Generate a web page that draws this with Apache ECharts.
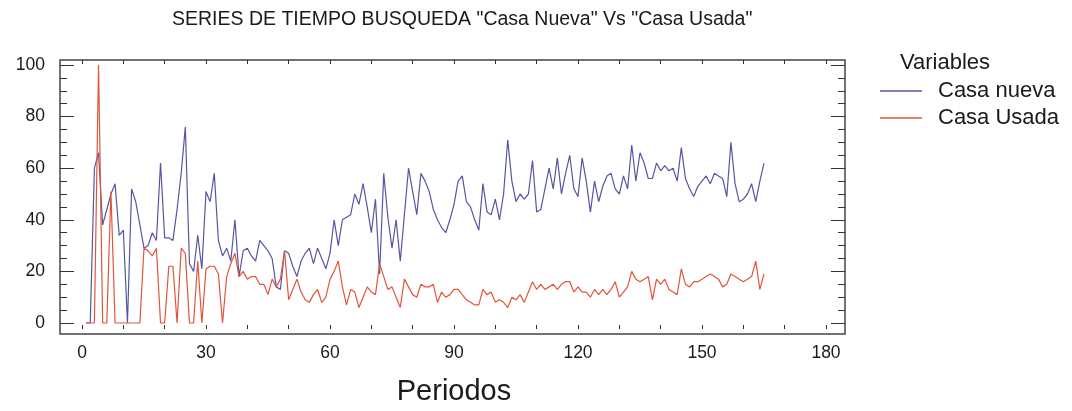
<!DOCTYPE html>
<html>
<head>
<meta charset="utf-8">
<script src="https://cdn.jsdelivr.net/npm/echarts@6/dist/echarts.min.js"></script>
<style>
html,body{margin:0;padding:0;background:#fff;}
#chart{width:1072px;height:411px;}
</style>
</head>
<body>
<div id="chart"></div>
<script>
const titulo = 'SERIES DE TIEMPO BUSQUEDA "Casa Nueva" Vs "Casa Usada"';
const tituloLeyenda = 'Variables';
const tituloEjeX = 'Periodos';
const nombreSerie1 = 'Casa nueva';
const nombreSerie2 = 'Casa Usada';
const xTicks = [0, 30, 60, 90, 120, 150, 180];
const yTicks = [0, 20, 40, 60, 80, 100];

const casaNueva = [
  0, 0, 60, 66, 38, 44, 50, 54, 34, 36,
  0, 52, 47, 38, 29, 30, 35, 32, 62, 33,
  33, 32, 44, 58, 76, 23, 20, 34, 21, 51,
  47, 58, 32, 26, 29, 24, 40, 18, 28, 29,
  26, 24, 32, 30, 28, 25, 14, 13, 28, 27,
  22, 18, 24, 27, 29, 23, 29, 25, 21, 27,
  40, 30, 40, 41, 42, 50, 46, 54, 45, 35,
  48, 19, 58, 41, 29, 40, 24, 42, 60, 51,
  42, 58, 55, 51, 44, 40, 37, 35, 40, 46,
  55, 57, 47, 45, 40, 36, 54, 43, 42, 48,
  40, 50, 71, 55, 47, 50, 48, 50, 63, 43,
  44, 52, 60, 52, 64, 50, 58, 65, 52, 49,
  64, 55, 43, 55, 47, 53, 57, 58, 52, 50,
  57, 52, 69, 55, 66, 62, 56, 56, 62, 59,
  61, 59, 60, 55, 68, 56, 52, 49, 53, 55,
  57, 54, 58, 57, 56, 49, 70, 54, 47, 48,
  50, 54, 47, 55, 62
];
const casaUsada = [
  0, 0, 0, 100, 0, 0, 51, 0, 0, 0,
  0, 0, 0, 0, 29, 28, 26, 29, 0, 0,
  22, 22, 0, 29, 27, 0, 0, 24, 0, 21,
  22, 22, 19, 0, 18, 23, 27, 18, 20, 17,
  18, 18, 15, 15, 11, 17, 14, 17, 28, 9,
  13, 17, 12, 9, 8, 11, 13, 8, 10, 17,
  20, 24, 14, 7, 13, 12, 6, 10, 14, 12,
  11, 23, 18, 13, 14, 10, 6, 17, 14, 11,
  10, 15, 14, 14, 15, 8, 12, 10, 11, 13,
  13, 11, 9, 8, 7, 7, 13, 11, 12, 8,
  9, 8, 6, 10, 9, 11, 8, 12, 16, 13,
  15, 13, 14, 15, 13, 15, 16, 16, 12, 14,
  12, 12, 10, 13, 11, 13, 11, 13, 16, 10,
  12, 14, 20, 17, 16, 17, 18, 9, 17, 15,
  17, 13, 12, 11, 21, 15, 14, 16, 16, 17,
  18, 19, 18, 17, 14, 15, 19, 18, 17, 16,
  17, 18, 24, 13, 19
];
const periodos = casaNueva.map((_, i) => i + 1);

const colorNueva = '#5556a3';
const colorUsada = '#e2553d';
const font = "'Liberation Sans', Arial, sans-serif";
const axisColor = '#333';
const textColor = '#1a1a1a';

const chart = echarts.init(document.getElementById('chart'), null, {renderer: 'canvas'});

function tickAxis(extra) {
  return Object.assign({
    axisLine: {show: false, onZero: false},
    splitLine: {show: false},
  }, extra);
}

const option = {
  animation: false,
  backgroundColor: '#fff',
  textStyle: {fontFamily: font},
  title: [{
    text: titulo,
    left: 167, top: 5,
    textStyle: {fontFamily: font, fontSize: 19.5, fontWeight: 'normal', color: textColor}
  }, {
    text: tituloLeyenda,
    left: 895, top: 47,
    textStyle: {fontFamily: font, fontSize: 22, fontWeight: 'normal', color: textColor}
  }],
  legend: {
    orient: 'vertical',
    left: 875, top: 75,
    itemWidth: 42, itemHeight: 1.5, itemGap: 5,
    icon: 'rect',
    textStyle: {fontFamily: font, fontSize: 22, color: textColor, lineHeight: 22, padding: [0, 0, 0, 11]},
    data: [nombreSerie1, nombreSerie2]
  },
  grid: [
    {left: 60, top: 60, width: 785, height: 274, show: true, borderColor: '#444', borderWidth: 1.5, backgroundColor: 'transparent'},
    {left: 82, top: 65, width: 744, height: 263, show: false}
  ],
  xAxis: [
    {gridIndex: 0, type: 'value', min: 0, max: 1, show: false},
    tickAxis({
      gridIndex: 1, type: 'value', position: 'bottom', offset: 6,
      min: xTicks[0], max: xTicks[xTicks.length - 1], interval: 30,
      axisTick: {show: true, inside: true, length: 4, lineStyle: {color: axisColor}},
      minorTick: {show: true, splitNumber: 3, length: 4, lineStyle: {color: axisColor}},
      axisLabel: {show: true, fontFamily: font, fontSize: 17.5, color: textColor, margin: 15},
      name: tituloEjeX, nameLocation: 'middle', nameGap: 48,
      nameTextStyle: {fontFamily: font, fontSize: 29, color: textColor}
    }),
    tickAxis({
      gridIndex: 1, type: 'value', position: 'top', offset: 5,
      min: xTicks[0], max: xTicks[xTicks.length - 1], interval: 30,
      axisTick: {show: true, inside: true, length: 4, lineStyle: {color: axisColor}},
      minorTick: {show: true, splitNumber: 3, length: 4, lineStyle: {color: axisColor}},
      axisLabel: {show: false}
    })
  ],
  yAxis: [
    {gridIndex: 0, type: 'value', min: 0, max: 1, show: false},
    tickAxis({
      gridIndex: 1, type: 'value', position: 'left', offset: 22,
      min: yTicks[0], max: yTicks[yTicks.length - 1], interval: 20,
      axisTick: {show: true, inside: true, length: 14, lineStyle: {color: axisColor}},
      minorTick: {show: true, splitNumber: 4, length: 7, lineStyle: {color: axisColor}},
      axisLabel: {show: true, fontFamily: font, fontSize: 17.5, color: textColor, margin: 15, padding: [0, 0, 6, 0]}
    }),
    tickAxis({
      gridIndex: 1, type: 'value', position: 'right', offset: 19,
      min: yTicks[0], max: yTicks[yTicks.length - 1], interval: 20,
      axisTick: {show: true, inside: true, length: 14, lineStyle: {color: axisColor}},
      minorTick: {show: true, splitNumber: 4, length: 7, lineStyle: {color: axisColor}},
      axisLabel: {show: false}
    })
  ],
  series: [
    {
      name: nombreSerie1, type: 'line', xAxisIndex: 1, yAxisIndex: 1,
      data: periodos.map((p, i) => [p, casaNueva[i]]),
      showSymbol: false, symbol: 'none', clip: false,
      lineStyle: {color: colorNueva, width: 1.2}, itemStyle: {color: colorNueva}
    },
    {
      name: nombreSerie2, type: 'line', xAxisIndex: 1, yAxisIndex: 1,
      data: periodos.map((p, i) => [p, casaUsada[i]]),
      showSymbol: false, symbol: 'none', clip: false,
      lineStyle: {color: colorUsada, width: 1.2}, itemStyle: {color: colorUsada}
    }
  ]
};
chart.setOption(option);
</script>
</body>
</html>
